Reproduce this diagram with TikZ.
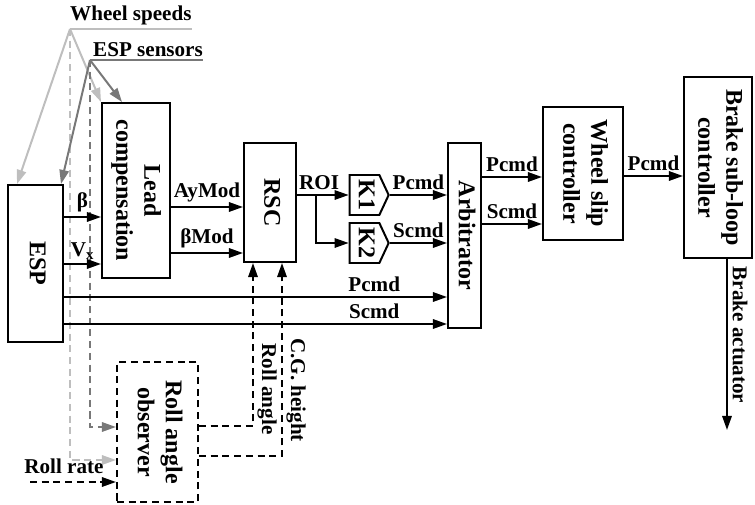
\documentclass[tikz,border=0pt]{standalone}
\usepackage{fontspec}
\setmainfont{Liberation Serif}
\usepackage{graphicx}
\usetikzlibrary{arrows.meta,positioning,shapes.symbols,calc}
\definecolor{wsgray}{RGB}{190,190,190}
\definecolor{esgray}{RGB}{120,120,120}
\newcommand{\vlabel}[1]{\rotatebox{-90}{\begin{tabular}{@{}c@{}}#1\end{tabular}}}

\begin{document}
\begin{tikzpicture}[
  x=0.03cm, y=-0.03cm,
  >={Triangle[length=12pt,width=8pt]},
  font=\fontsize{18}{25}\selectfont\bfseries,
  blk/.style={draw, line width=1.7pt, inner sep=0pt, align=center, font=\fontsize{20.5}{24}\selectfont\bfseries},
  gain/.style={blk, signal, signal to=east, signal pointer angle=130, minimum width=1.17cm, minimum height=1.2cm},
  sig/.style={->, line width=1.7pt},
  obs/.style={->, line width=1.7pt, dash pattern=on 6pt off 4pt},
  lsig/.style={->, line width=1.7pt, wsgray},
  dsig/.style={->, line width=1.7pt, esgray}
]
\useasboundingbox (0,0) rectangle (755,505);

% blocks
\node[blk, minimum width=1.65cm, minimum height=4.71cm] (esp) at (35.5,263.5) {\vlabel{ESP}};
\node[blk, minimum width=2.04cm, minimum height=5.25cm] (lead) at (136,190.5) {\vlabel{Lead\\compensation}};
\node[blk, minimum width=1.56cm, minimum height=3.57cm] (rsc) at (270,202.5) {\vlabel{RSC}};
\node[gain] (k1) at (364.5,195) {\vlabel{K1}};
\node[gain] (k2) at (364.5,243) {\vlabel{K2}};
\node[blk, minimum width=0.99cm, minimum height=5.55cm] (arb) at (464.5,235.5) {\vlabel{Arbitrator}};
\node[blk, minimum width=2.4cm, minimum height=3.99cm] (wsc) at (583,173.5) {\vlabel{Wheel slip\\controller}};
\node[blk, minimum width=2.04cm, minimum height=5.43cm] (bsc) at (718,167.5) {\vlabel{Brake sub-loop\\controller}};
\node[blk, dash pattern=on 6pt off 4pt, minimum width=2.43cm, minimum height=4.2cm] (rao) at (157.5,432) {\vlabel{Roll angle\\observer}};

% sensor inputs
\coordinate (ws) at (70,29);
\coordinate (es) at (90,60);
\node[anchor=south west, inner xsep=0pt, inner ysep=3pt] (wstxt) at (ws) {Wheel speeds};
\node[anchor=south west, inner xsep=0pt, inner ysep=3pt] (estxt) at ($(es)+(3,0)$) {ESP sensors};
\draw[line width=1.7pt, wsgray] (ws) -- (wstxt.east |- ws);
\draw[line width=1.7pt, esgray] (es) -- (estxt.east |- es);

\draw[lsig] (ws) -- ($(esp.north west)+(10,0)$);
\draw[lsig] (ws) -- (lead.north west);
\draw[lsig, dash pattern=on 6pt off 4pt] (ws) |- ($(rao.west)+(0,28)$);
\draw[dsig] (es) -- ($(esp.north east)+(-3,0)$);
\draw[dsig] (es) -- ($(lead.north west)+(21,0)$);
\draw[dsig, dash pattern=on 6pt off 4pt] (es) |- ($(rao.west)+(0,-5)$);

% signal path
\draw[sig] (esp.east |- 0,217) -- node[above] (beta) {β} (lead.west |- 0,217);
\draw[sig] (esp.east |- 0,264) -- node[above] (vx) {V\textsubscript{x}} (lead.west |- 0,264);
\draw[sig] (lead.east |- 0,207) -- node[above] (aymod) {AyMod} (rsc.west |- 0,207);
\draw[sig] (lead.east |- 0,253) -- node[above] (bmod) {βMod} (rsc.west |- 0,253);
\draw[sig] (rsc.east |- k1.west) -- node[above, pos=0, anchor=south west, inner xsep=1pt] (roilbl) {ROI} (k1.west);
\coordinate (roi) at ($(rsc.east |- k1.west)+(19,0)$);
\draw[sig] (roi) |- (k2.west);
\draw[sig] (k1.east) -- node[above] (p1) {Pcmd} (arb.west |- k1.east);
\draw[sig] (k2.east) -- node[above] (s1) {Scmd} (arb.west |- k2.east);
\draw[sig] (esp.east |- 0,297) -- node[above, pos=0.81] (p2) {Pcmd} (arb.west |- 0,297);
\draw[sig] (esp.east |- 0,324) -- node[above, pos=0.81] (s2) {Scmd} (arb.west |- 0,324);
\draw[sig] (arb.east |- 0,177) -- node[above] (p3) {Pcmd} (wsc.west |- 0,177);
\draw[sig] (arb.east |- 0,224) -- node[above] (s3) {Scmd} (wsc.west |- 0,224);
\draw[sig] (wsc.east |- 0,176) -- node[above] (p4) {Pcmd} (bsc.west |- 0,176);

\coordinate (act) at (727,430);
\draw[sig] (bsc.south -| act) -- (act);
\node[rotate=-90, anchor=south, inner sep=2pt] (acttxt) at (730,335) {Brake actuator};

% roll angle observer
\coordinate (rrin) at (30,482);
\node (rrtxt) at (64,466) {Roll rate};
\draw[obs] (rrin) -- (rrin -| rao.west);
\coordinate (ra) at (253,426);
\coordinate (cg) at (282,456);
\draw[obs] (rao.east |- ra) -| (rsc.south -| ra);
\draw[obs] (rao.east |- cg) -| (rsc.south -| cg);
\node[rotate=-90, anchor=south, inner sep=2pt] (ratxt) at (255,389) {Roll angle};
\node[rotate=-90, anchor=south, inner sep=2pt] (cgtxt) at (284,390) {C.G. height};
\end{tikzpicture}
\end{document}
